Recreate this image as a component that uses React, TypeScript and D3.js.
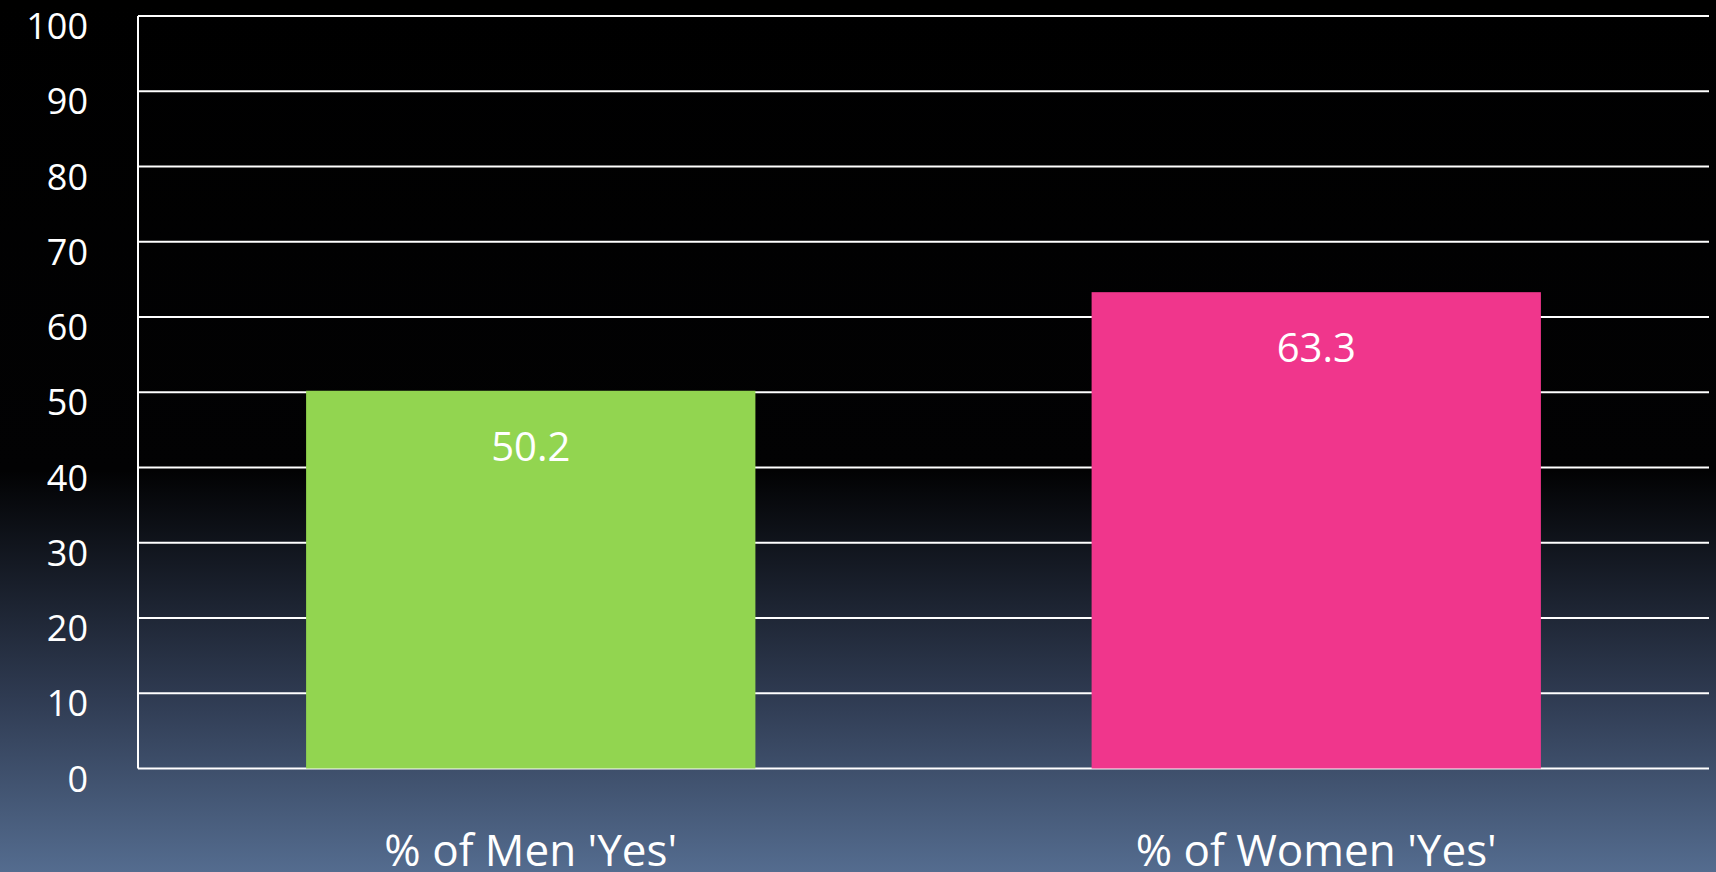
import React, { useEffect, useRef } from "react";
import * as d3 from "d3";

// data
const categories = ["% of Men 'Yes'", "% of Women 'Yes'"];
const values = [50.2, 63.3];
const barColors = ["#92d550", "#f0368c"];
const yTicks = [0, 10, 20, 30, 40, 50, 60, 70, 80, 90, 100];

const W = 1716;
const H = 872;
const FONT = "'Open Sans', 'Noto Sans', sans-serif";

const App = () => {
  const svgRef = useRef<SVGSVGElement>(null);

  useEffect(() => {
    const svg = d3.select(svgRef.current);
    svg.selectAll("*").remove();

    const left = 138;
    const right = 1709;
    const top = 16;
    const bottom = 768.5;

    const x = d3
      .scaleBand<string>()
      .domain(categories)
      .range([left, right])
      .paddingInner(0.428)
      .paddingOuter(0.214);

    const y = d3.scaleLinear().domain([0, 100]).range([bottom, top]);

    // background gradient
    const defs = svg.append("defs");
    const grad = defs
      .append("linearGradient")
      .attr("id", "bg")
      .attr("x1", 0)
      .attr("y1", 0)
      .attr("x2", 0)
      .attr("y2", 1);
    grad.append("stop").attr("offset", "0%").attr("stop-color", "#000000");
    grad.append("stop").attr("offset", "54%").attr("stop-color", "#020203");
    grad.append("stop").attr("offset", "80%").attr("stop-color", "#2f3b52");
    grad.append("stop").attr("offset", "100%").attr("stop-color", "#546c8f");

    svg
      .append("rect")
      .attr("width", W)
      .attr("height", H)
      .attr("fill", "url(#bg)");

    // gridlines
    svg
      .append("g")
      .selectAll("line")
      .data(yTicks)
      .join("line")
      .attr("x1", left)
      .attr("x2", right)
      .attr("y1", (d) => y(d))
      .attr("y2", (d) => y(d))
      .attr("stroke", "#ffffff")
      .attr("stroke-width", 2);

    // y axis line
    svg
      .append("line")
      .attr("x1", left)
      .attr("x2", left)
      .attr("y1", top)
      .attr("y2", bottom)
      .attr("stroke", "#ffffff")
      .attr("stroke-width", 2);

    // tick labels
    svg
      .append("g")
      .selectAll("text")
      .data(yTicks)
      .join("text")
      .attr("x", 88)
      .attr("y", (d) => y(d) + 23)
      .attr("text-anchor", "end")
      .attr("fill", "#ffffff")
      .style("font", `36px ${FONT}`)
      .text((d) => d);

    // bars
    svg
      .append("g")
      .selectAll("rect")
      .data(values)
      .join("rect")
      .attr("x", (d, i) => x(categories[i]))
      .attr("y", (d) => y(d))
      .attr("width", x.bandwidth())
      .attr("height", (d) => y(0) - y(d))
      .attr("fill", (d, i) => barColors[i]);

    // value labels
    svg
      .append("g")
      .selectAll("text")
      .data(values)
      .join("text")
      .attr("x", (d, i) => x(categories[i]) + x.bandwidth() / 2)
      .attr("y", (d) => y(d) + 70)
      .attr("text-anchor", "middle")
      .attr("fill", "#ffffff")
      .style("font", `40px ${FONT}`)
      .text((d) => d.toFixed(1));

    // category labels
    svg
      .append("g")
      .selectAll("text")
      .data(categories)
      .join("text")
      .attr("x", (d) => x(d) + x.bandwidth() / 2)
      .attr("y", 866)
      .attr("text-anchor", "middle")
      .attr("fill", "#ffffff")
      .style("font", `44px ${FONT}`)
      .text((d) => d);
  }, []);

  return (
    <svg
      ref={svgRef}
      width={W}
      height={H}
      viewBox={`0 0 ${W} ${H}`}
      style={{ position: "absolute", left: 0, top: 0, display: "block" }}
    />
  );
};

export default App;
